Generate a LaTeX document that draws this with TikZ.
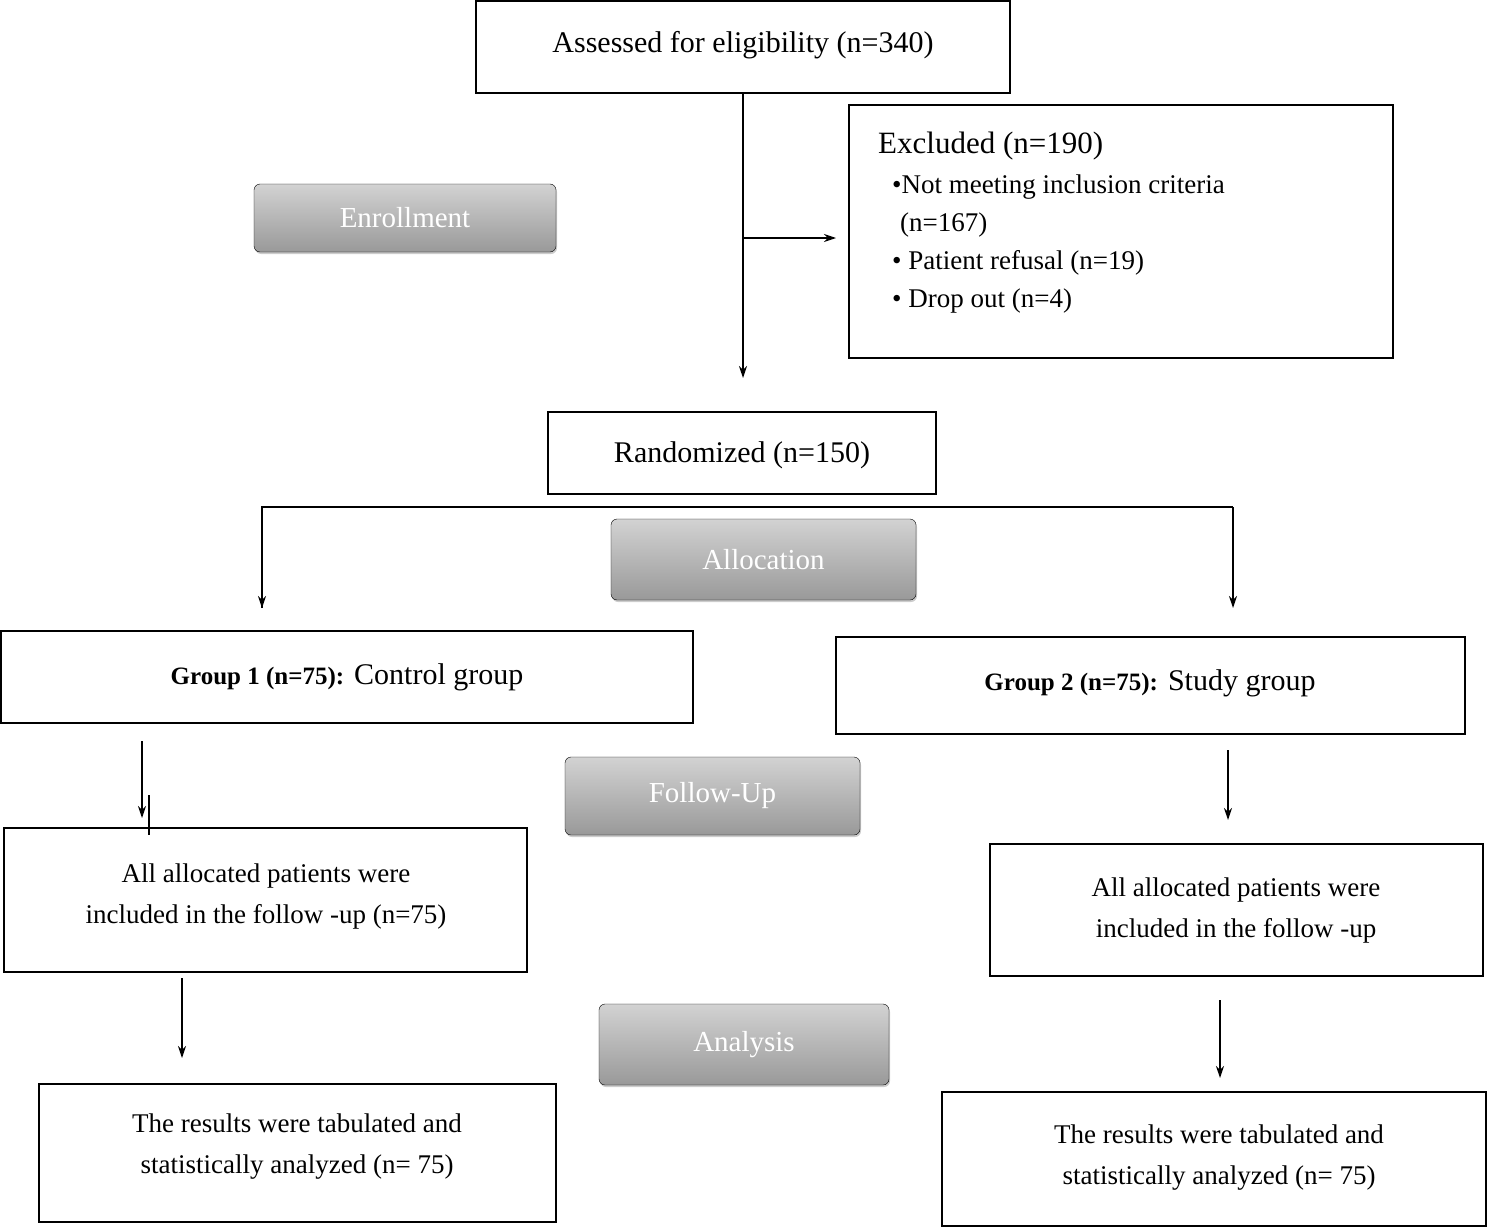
\documentclass[tikz,border=0pt]{standalone}
\usepackage{fontspec}
\setmainfont{Liberation Serif}
\usetikzlibrary{arrows.meta,shadows}
\begin{document}
\begin{tikzpicture}[x=1pt,y=-1pt,
  box/.style={draw,line width=1.4pt,inner sep=0pt},
  tag/.style={rounded corners=6pt,top color=gray!35,bottom color=gray!80,text=white,
     drop shadow={shadow xshift=1pt,shadow yshift=-2pt,opacity=0.4},font=\fontsize{29}{33}\selectfont},
  arr/.style={line width=1.4pt,-{Stealth[length=12pt,width=8pt]}},
  ln/.style={line width=1.4pt}]
\useasboundingbox (0,0) rectangle (1499,1228);
\fontsize{30}{36}\selectfont
% boxes
\draw[box] (476,1) rectangle (1010,93);
\node (a) at (743,45) {Assessed for eligibility (n=340)};
\draw[box] (849,105) rectangle (1393,358);
\node (ex) [anchor=north west,align=left,font=\fontsize{27}{42}\selectfont] at (868,122)
 {\fontsize{31}{36}\selectfont Excluded (n=190)\\[-2pt]
  \hspace*{14pt}•Not meeting inclusion criteria\\[-4pt]
  \hspace*{22pt}(n=167)\\[-4pt]
  \hspace*{14pt}• Patient refusal (n=19)\\[-4pt]
  \hspace*{14pt}• Drop out (n=4)};
\draw[tag] (254,184) rectangle (556,252) node[midway] (en) {Enrollment};
\coordinate (a1) at (743,93);
\coordinate (a2) at (743,378);
\coordinate (b1) at (743,238);
\coordinate (b2) at (836,238);
\draw[arr] (a1) -- (a2);
\draw[arr] (b1) -- (b2);
\draw[box] (548,412) rectangle (936,494);
\node (r) at (742,455) {Randomized (n=150)};
\coordinate (l1) at (262,507); \coordinate (l2) at (1233,507);
\coordinate (l1e) at (262,608); \coordinate (l2e) at (1233,608);
\draw[ln] (l1e) -- (l1) -- (l2);
\draw[arr] (l1) -- (l1e);
\draw[arr] (l2) -- (l2e);
\draw[tag] (611,519) rectangle (916,600) node[midway] (al) {Allocation};
\draw[box] (1,631) rectangle (693,723);
\node (g1) at (347,677) {{\fontsize{25}{30}\selectfont\bfseries Group 1 (n=75):} Control group};
\draw[box] (836,637) rectangle (1465,734);
\node (g2) at (1150,683) {{\fontsize{25}{30}\selectfont\bfseries Group 2 (n=75):} Study group};
\draw[tag] (565,757) rectangle (860,835) node[midway] (fu) {Follow-Up};
\coordinate (c1) at (142,741); \coordinate (c2) at (142,818);
\draw[arr] (c1) -- (c2);
\draw[ln] (149,795) -- (149,835);
\coordinate (d1) at (1228,750); \coordinate (d2) at (1228,820);
\draw[arr] (d1) -- (d2);
\begin{scope}[font=\fontsize{27}{41}\selectfont]
\draw[box] (4,828) rectangle (527,972);
\node[align=center] (f1) at (266,896) {All allocated patients were\\included in the follow -up (n=75)};
\draw[box] (990,844) rectangle (1483,976);
\node[align=center] (f2) at (1236,910) {All allocated patients were\\included in the follow -up};
\draw[tag] (599,1004) rectangle (889,1085) node[midway] (an) {Analysis};
\coordinate (e1) at (182,978); \coordinate (e2) at (182,1058);
\draw[arr] (e1) -- (e2);
\coordinate (h1) at (1220,1000); \coordinate (h2) at (1220,1078);
\draw[arr] (h1) -- (h2);
\draw[box] (39,1084) rectangle (556,1222);
\node[align=center] (s1) at (297,1147) {The results were tabulated and\\statistically analyzed (n= 75)};
\draw[box] (942,1092) rectangle (1486,1226);
\node[align=center] (s2) at (1219,1158) {The results were tabulated and\\statistically analyzed (n= 75)};
\end{scope}
\end{tikzpicture}
\end{document}
